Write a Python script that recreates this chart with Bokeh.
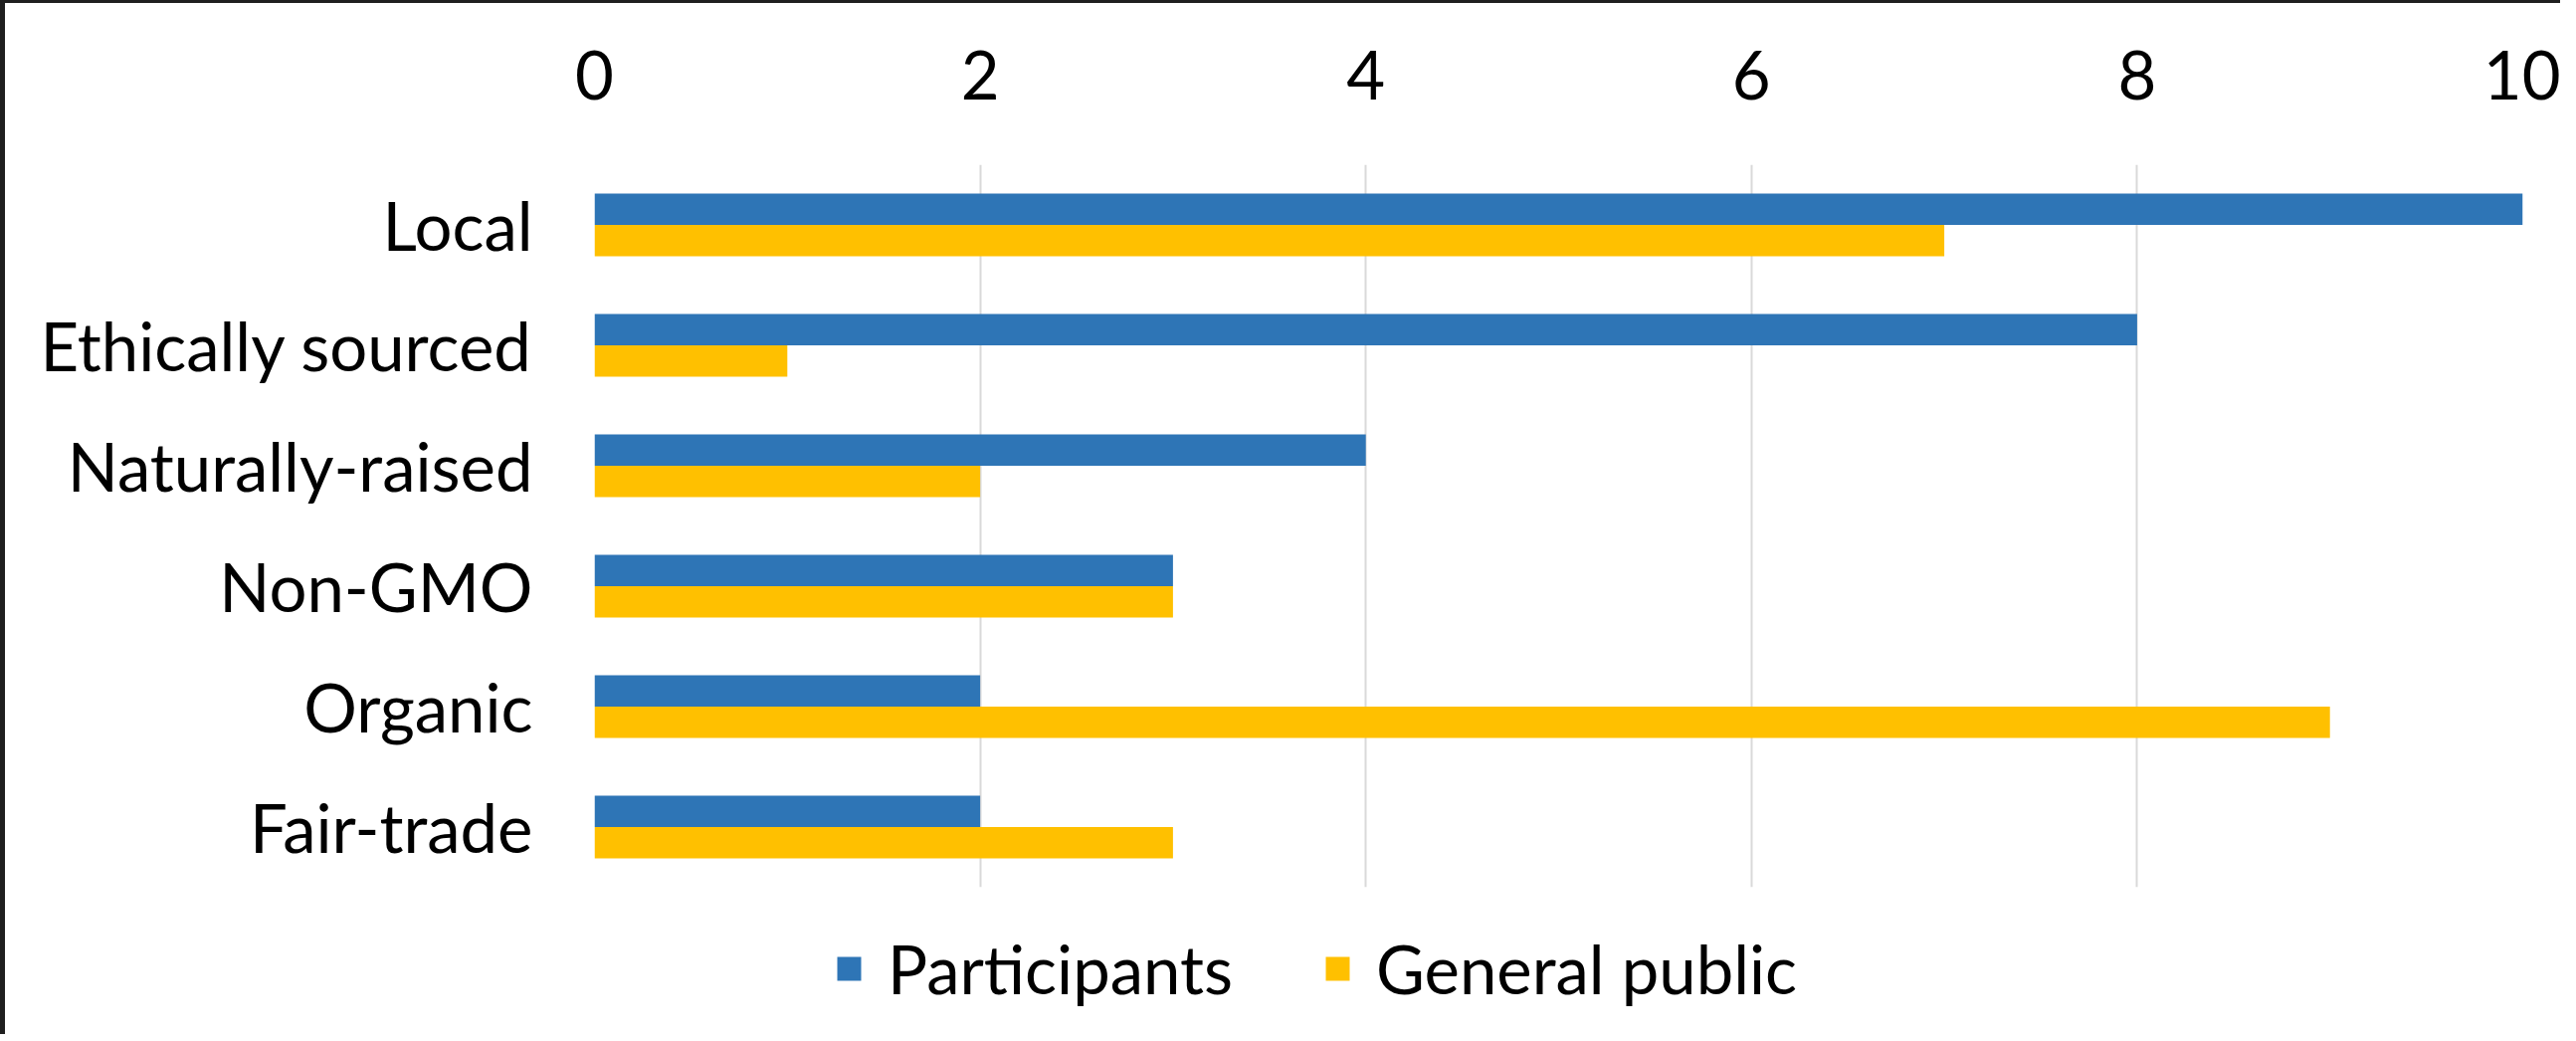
from bokeh.plotting import figure
from bokeh.layouts import column
from bokeh.models import ColumnDataSource, FactorRange, Range1d, FixedTicker, Legend, LegendItem
from bokeh.transform import dodge
from bokeh.embed import file_html
from bokeh.resources import INLINE

categories = ["Local", "Ethically sourced", "Naturally-raised", "Non-GMO", "Organic", "Fair-trade"]
participants = [10, 8, 4, 3, 2, 2]
general_public = [7, 1, 2, 3, 9, 3]
x_ticks = [0, 2, 4, 6, 8, 10]
series_names = ["Participants", "General public"]
colors = ["#2E75B6", "#FFC000"]

src = ColumnDataSource(data=dict(cat=categories, p=participants, g=general_public))

FONT = "Lato"
FS = "67px"

fig = figure(
    width=2568, height=896,
    y_range=FactorRange(*list(reversed(categories))),
    x_range=Range1d(0, 10),
    x_axis_location="above",
    output_backend="svg", toolbar_location=None,
    min_border_left=592, min_border_right=38, min_border_top=162, min_border_bottom=8,
)

fig.hbar(y=dodge("cat", 0.13, range=fig.y_range), right="p", left=0, height=0.26,
         source=src, fill_color=colors[0], line_color=None)
fig.hbar(y=dodge("cat", -0.13, range=fig.y_range), right="g", left=0, height=0.26,
         source=src, fill_color=colors[1], line_color=None)

fig.outline_line_color = None
fig.background_fill_color = "white"
fig.border_fill_color = "white"
fig.ygrid.grid_line_color = None
fig.xgrid.grid_line_color = "#d9d9d9"
fig.xgrid.grid_line_width = 2
fig.xaxis.ticker = FixedTicker(ticks=x_ticks)

for ax in (fig.xaxis[0], fig.yaxis[0]):
    ax.axis_line_color = None
    ax.major_tick_line_color = None
    ax.minor_tick_line_color = None
    ax.major_label_text_font = FONT
    ax.major_label_text_font_size = FS
    ax.major_label_text_color = "#000000"

fig.xaxis.major_label_standoff = 60
fig.yaxis.major_label_standoff = 56

# legend strip below the chart (its own bars have zero height, only the legend shows)
leg = figure(width=2568, height=140, output_backend="svg", toolbar_location=None,
             min_border=0, x_range=Range1d(20, 30), y_range=FactorRange(*categories))
leg.outline_line_color = None
leg.axis.visible = False
leg.grid.visible = False
leg.border_fill_color = "white"
lr1 = leg.hbar(y="cat", right="p", left=0, height=0, source=src,
               fill_color=colors[0], line_color=None)
lr2 = leg.hbar(y="cat", right="g", left=0, height=0, source=src,
               fill_color=colors[1], line_color=None)

legend = Legend(
    items=[LegendItem(label=series_names[0], renderers=[lr1]),
           LegendItem(label=series_names[1], renderers=[lr2])],
    location=(241, 26), orientation="horizontal",
    label_text_font=FONT, label_text_font_size=FS, label_text_color="#000000",
    glyph_width=30, glyph_height=30, label_standoff=24, spacing=90,
    padding=0, margin=0, border_line_color=None, background_fill_alpha=0,
)
leg.add_layout(legend, "center")

p = column(fig, leg, spacing=0)
p.styles = {"border-left": "5px solid #1f1f1f", "border-top": "3px solid #1f1f1f"}

open("out.html", "w").write(file_html(p, INLINE))
